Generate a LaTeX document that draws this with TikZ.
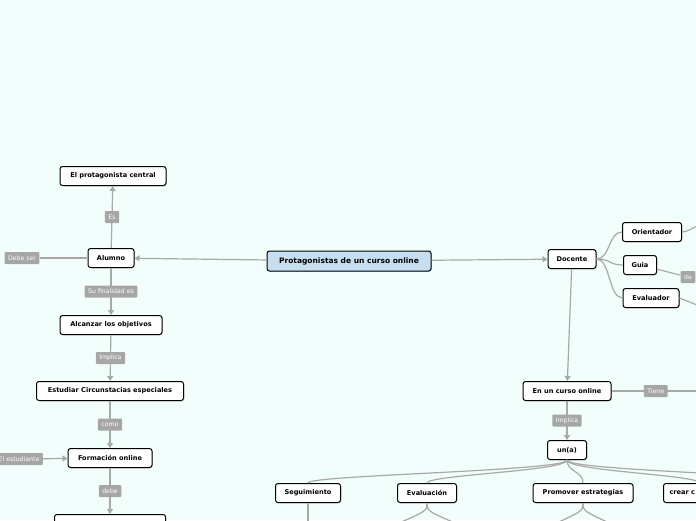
\documentclass[tikz,border=0pt]{standalone}
\usepackage{fontspec}
\setmainfont{DejaVu Sans}
\usetikzlibrary{arrows.meta,shadows}
\definecolor{bgcol}{RGB}{241,254,252}
\definecolor{linkgray}{RGB}{168,168,168}
\definecolor{taggray}{RGB}{166,166,166}
\definecolor{rootblue}{RGB}{198,222,240}

\begin{document}
\begin{tikzpicture}
	[x=1pt,y=-1pt,thick,
	 >={Triangle[length=5pt,width=6pt]},
	 topic/.style={draw=black,fill=white,rounded corners=2.5pt,line width=1pt,
	   font=\fontsize{6.6}{7}\selectfont\bfseries,minimum height=19pt,inner xsep=6pt,
	   drop shadow={shadow xshift=.8pt,shadow yshift=-.8pt,opacity=.35}},
	 root/.style={topic,fill=rootblue,minimum height=20pt,font=\fontsize{7.5}{8}\selectfont\bfseries},
	 tag/.style={fill=taggray,text=white,rounded corners=1pt,font=\fontsize{6.2}{7}\selectfont,
	   minimum height=12pt,inner xsep=3.5pt,inner ysep=0pt},
	 link/.style={draw=linkgray,line width=1.2pt}]

	\fill[bgcol] (0,0) rectangle (696,520);
	\useasboundingbox (0,0) rectangle (696,520);

	% centre
	\node[root,minimum width=164pt] (central) at (349,261) {Protagonistas de un curso online};

	% alumno side
	\node[topic,minimum width=46pt] (alumno) at (111,258) {Alumno};
	\node[topic,minimum width=106pt] (prota) at (113,176) {El protagonista central};
	\node[tag] (debeser) at (22,258) {Debe ser};
	\node[topic,minimum width=102pt] (alcanzar) at (111,325) {Alcanzar los objetivos};
	\node[topic,minimum width=147pt] (estudiar) at (110,391) {Estudiar Circunstacias especiales};
	\node[topic,minimum width=84pt] (formacion) at (110,458) {Formación online};
	\node[tag] (estudiante) at (19,459) {El estudiante};
	\node[topic,anchor=north,minimum width=111pt] (bottomnode) at (110,514) {};

	\draw[link,->] (central) -- (alumno);
	\draw[link,->] (alumno) -- node[tag] (es) {Es} (prota);
	\draw[link] (alumno) -- (debeser);
	\draw[link,->] (alumno) -- node[tag] (finalidad) {Su finalidad es} (alcanzar);
	\draw[link,->] (alcanzar) -- node[tag] (implica) {Implica} (estudiar);
	\draw[link,->] (estudiar) -- node[tag] (como) {como} (formacion);
	\draw[link,->] (estudiante) -- (formacion);
	\draw[link,->] (formacion) -- node[tag] (debe) {debe} (bottomnode);

	% docente side
	\node[topic,minimum width=48pt] (docente) at (572,259) {Docente};
	\node[topic,minimum width=59pt] (orient) at (652,232) {Orientador};
	\node[topic,minimum width=33pt] (guia) at (640,265) {Guia};
	\node[topic,minimum width=56pt] (evaluador) at (651,298) {Evaluador};
	\node[tag] (de) at (688,277) {de};
	\coordinate (orientout) at (712,220);
	\coordinate (evalout) at (702,307);

	\draw[link,->] (central) -- (docente);
	\draw[link] (docente.east) .. controls +(14,0) and +(-14,0) .. (orient.west);
	\draw[link] (docente.east) .. controls +(14,0) and +(-14,0) .. (guia.west);
	\draw[link] (docente.east) .. controls +(14,0) and +(-14,0) .. (evaluador.west);
	\draw[link] (orient.east) .. controls +(8,0) and +(-8,0) .. (orientout);
	\draw[link] (guia) -- (de);
	\draw[link] (evaluador.east) -- (evalout);

	\node[topic,minimum width=88pt] (encurso) at (567,391) {En un curso online};
	\node[topic,minimum width=39pt] (una) at (567,450) {un(a)};
	\coordinate (tieneout) at (700,391);

	\draw[link,->] (docente) -- (encurso);
	\draw[link] (encurso) -- node[tag] (tiene) {Tiene} (tieneout);
	\draw[link,->] (encurso) -- node[tag] (implicados) {Implica} (una);

	% hijos de un(a)
	\node[topic,minimum width=65pt] (seguim) at (308,493) {Seguimiento};
	\node[topic,minimum width=59pt] (evalua) at (427,493) {Evaluación};
	\node[topic,minimum width=100pt] (promover) at (583,493) {Promover estrategias};
	\node[topic,anchor=west,text width=60pt,align=left] (crear) at (663,493) {crear c};
	\coordinate (unaout) at (820,483);

	\draw[link] (una.south) .. controls +(0,11) and +(0,-8) .. (seguim.north);
	\draw[link] (una.south) .. controls +(0,11) and +(0,-8) .. (evalua.north);
	\draw[link] (una.south) .. controls +(0,12) and +(0,-12) .. (promover.north);
	\draw[link] (una.south) .. controls +(0,11) and +(0,-8) .. (crear.north);
	\draw[link] (una.south) .. controls +(0,11) and +(0,-8) .. (unaout);

	\coordinate (seguimout) at (308,525);
	\coordinate (evalL) at (392,526);
	\coordinate (evalR) at (462,526);
	\coordinate (promL) at (550,526);
	\coordinate (promR) at (616,526);
	\draw[link] (seguim) -- (seguimout);
	\draw[link] (evalua.south) .. controls +(0,8) .. (evalL);
	\draw[link] (evalua.south) .. controls +(0,8) .. (evalR);
	\draw[link] (promover.south) .. controls +(0,8) .. (promL);
	\draw[link] (promover.south) .. controls +(0,8) .. (promR);

\end{tikzpicture}
\end{document}
